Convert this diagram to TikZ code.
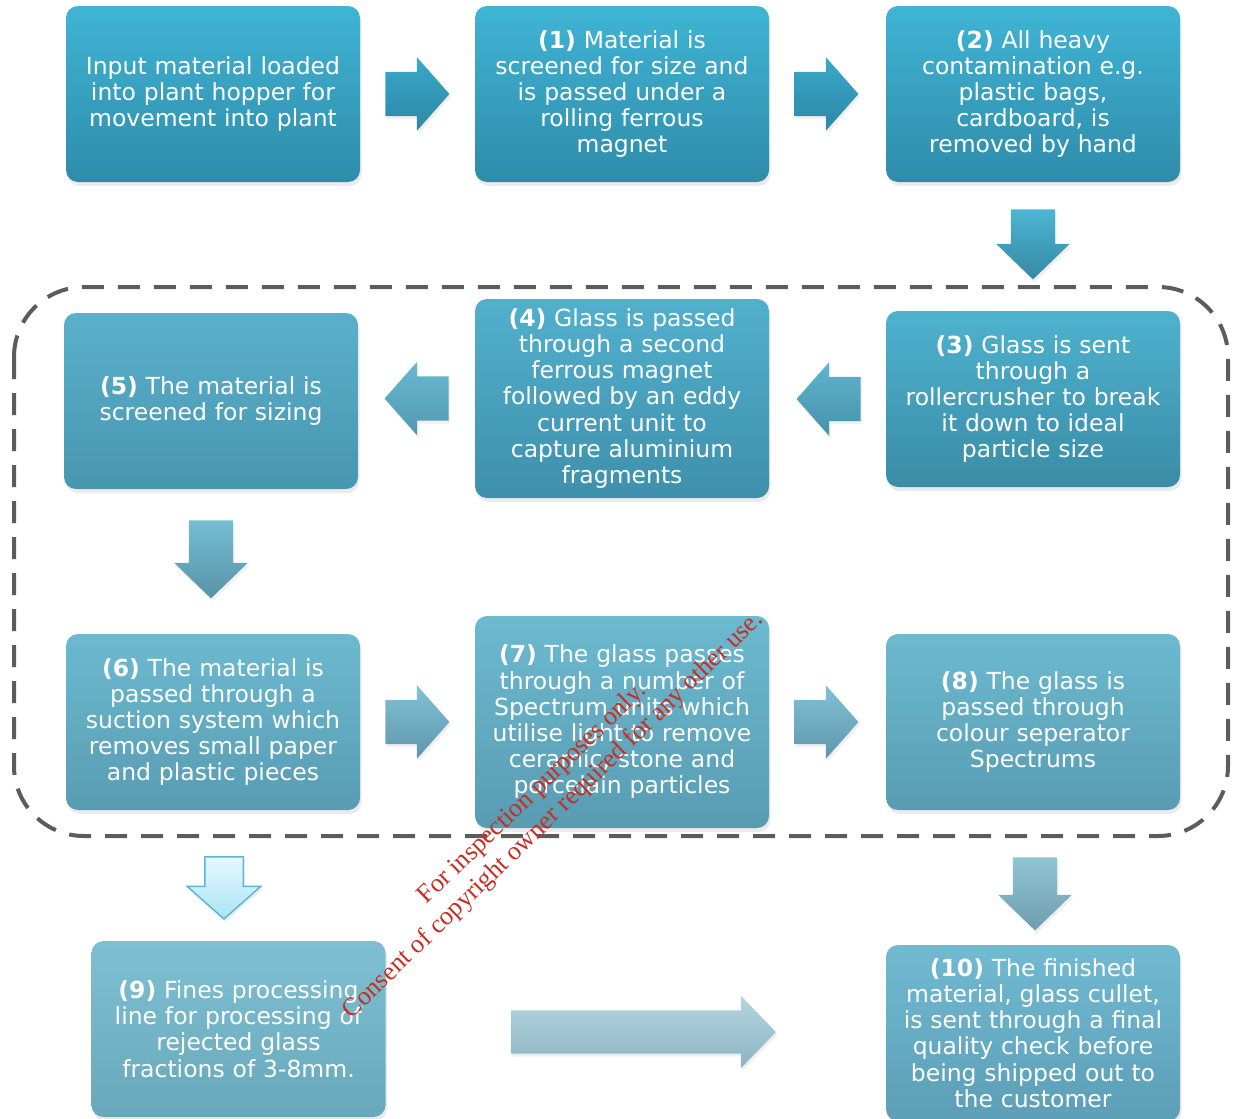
\documentclass[tikz,border=0pt]{standalone}
\usepackage{fontspec}
\setmainfont{DejaVu Sans}
\newfontfamily\wmfont{Liberation Serif}
\usepackage{tikz}
\usetikzlibrary{shapes.arrows,shadows,calc}

\definecolor{wmred}{RGB}{200,45,35}
\definecolor{framegray}{RGB}{92,92,92}
% box shades, top and bottom
\definecolor{row1top}{RGB}{64,180,212}
\definecolor{row1bot}{RGB}{46,140,170}
\definecolor{crushtop}{RGB}{78,178,207}
\definecolor{crushbot}{RGB}{58,140,166}
\definecolor{eddytop}{RGB}{82,176,205}
\definecolor{eddybot}{RGB}{62,144,172}
\definecolor{sizetop}{RGB}{90,176,204}
\definecolor{sizebot}{RGB}{72,150,176}
\definecolor{row3top}{RGB}{108,186,208}
\definecolor{row3bot}{RGB}{88,156,178}
\definecolor{finestop}{RGB}{126,192,210}
\definecolor{finesbot}{RGB}{104,168,187}
\definecolor{lasttop}{RGB}{112,186,210}
\definecolor{lastbot}{RGB}{92,158,182}
% arrow shades
\definecolor{arr1top}{RGB}{58,168,200}
\definecolor{arr1bot}{RGB}{44,136,168}
\definecolor{arr2top}{RGB}{76,182,210}
\definecolor{arr2bot}{RGB}{54,136,165}
\definecolor{arr3top}{RGB}{96,180,206}
\definecolor{arr3bot}{RGB}{70,146,172}
\definecolor{arr4top}{RGB}{106,186,210}
\definecolor{arr4bot}{RGB}{80,152,176}
\definecolor{arr5top}{RGB}{118,190,212}
\definecolor{arr5bot}{RGB}{88,146,166}
\definecolor{arr6top}{RGB}{128,194,214}
\definecolor{arr6bot}{RGB}{96,150,172}
\definecolor{palerim}{RGB}{90,184,212}
\definecolor{paletop}{RGB}{230,248,253}
\definecolor{palebot}{RGB}{170,228,245}
\definecolor{arr8top}{RGB}{144,196,212}
\definecolor{arr8bot}{RGB}{110,158,176}
\definecolor{longtop}{RGB}{180,214,226}
\definecolor{longbot}{RGB}{142,178,192}

\tikzset{
    flow-box/.style = {rectangle, rounded corners=12pt, minimum width=294pt, minimum height=176pt, text width=290pt, align=center, text=white, inner sep=0pt, font=\fontsize{23.5}{26.2}\selectfont, drop shadow={shadow xshift=1.5pt, shadow yshift=-4pt, opacity=0.16}},
    flow-arrow/.style = {single arrow, anchor=tail, single arrow tip angle=97, single arrow head extend=14.5pt, inner sep=22pt, minimum height=63pt, drop shadow={shadow xshift=1.5pt, shadow yshift=-3pt, opacity=0.12}},
    tone/.style 2 args = {top color=#1, bottom color=#2},
    frame-line/.style = {draw=framegray, line width=4pt, dash pattern=on 22pt off 14pt, rounded corners=70pt},
    watermark/.style = {text=wmred, align=center, rotate=44, font=\wmfont\fontsize{26}{30}\selectfont},
}

\begin{document}
\begin{tikzpicture}[x=1pt, y=-1pt]
\useasboundingbox (0,0) rectangle (1237,1119);

% dashed outline round the second and third rows
\draw[frame-line] (14,287) rectangle (1228,836);

% first row
\node[flow-box, tone={row1top}{row1bot}] (input) at (213,94) {Input material loaded\\into plant hopper for\\movement into plant};
\node[flow-box, tone={row1top}{row1bot}] (magnet) at (622,94) {\textbf{(1)} Material is\\screened for size and\\is passed under a\\rolling ferrous\\magnet};
\node[flow-box, tone={row1top}{row1bot}] (hand) at (1033,94) {\textbf{(2)} All heavy\\contamination e.g.\\plastic bags,\\cardboard, is\\removed by hand};

% second row
\node[flow-box, tone={crushtop}{crushbot}] (crusher) at (1033,399) {\textbf{(3)} Glass is sent\\through a\\rollercrusher to break\\it down to ideal\\particle size};
\node[flow-box, minimum height=199pt, tone={eddytop}{eddybot}] (eddy) at (622,398.5) {\textbf{(4)} Glass is passed\\through a second\\ferrous magnet\\followed by an eddy\\current unit to\\capture aluminium\\fragments};
\node[flow-box, tone={sizetop}{sizebot}] (sizing) at (211,401) {\textbf{(5)} The material is\\screened for sizing};

% third row
\node[flow-box, tone={row3top}{row3bot}] (suction) at (213,722) {\textbf{(6)} The material is\\passed through a\\suction system which\\removes small paper\\and plastic pieces};
\node[flow-box, minimum height=212pt, tone={row3top}{row3bot}] (spectrum) at (622,722) {\textbf{(7)} The glass passes\\through a number of\\Spectrum units which\\utilise light to remove\\ceramic, stone and\\porcelain particles};
\node[flow-box, tone={row3top}{row3bot}] (colour) at (1033,722) {\textbf{(8)} The glass is\\passed through\\colour seperator\\Spectrums};

% last row
\node[flow-box, tone={finestop}{finesbot}] (fines) at (238.5,1029) {\textbf{(9)} Fines processing\\line for processing of\\rejected glass\\fractions of 3-8mm.};
\node[flow-box, tone={lasttop}{lastbot}] (finished) at (1033,1033) {\textbf{(10)} The finished\\material, glass cullet,\\is sent through a final\\quality check before\\being shipped out to\\the customer};

% block arrows between the steps
\node[flow-arrow, tone={arr1top}{arr1bot}] (a01) at ([xshift=25pt]input.east) {};
\node[flow-arrow, tone={arr1top}{arr1bot}] (a12) at ([xshift=25pt]magnet.east) {};
\node[flow-arrow, shape border rotate=270, single arrow tip angle=92, minimum height=70pt, tone={arr2top}{arr2bot}] (a23) at ([yshift=-27pt]hand.south) {};
\node[flow-arrow, shape border rotate=180, minimum height=64pt, tone={arr3top}{arr3bot}] (a34) at ([xshift=-25pt]crusher.west) {};
\node[flow-arrow, shape border rotate=180, minimum height=62pt, tone={arr4top}{arr4bot}] (a45) at ([xshift=-26pt]eddy.west) {};
\node[flow-arrow, shape border rotate=270, single arrow tip angle=92, minimum height=78pt, tone={arr5top}{arr5bot}] (a56) at ([yshift=-31pt]sizing.south) {};
\node[flow-arrow, minimum height=62pt, tone={arr6top}{arr6bot}] (a67) at ([xshift=25pt]suction.east) {};
\node[flow-arrow, minimum height=62pt, tone={arr6top}{arr6bot}] (a78) at ([xshift=25pt]spectrum.east) {};
\node[flow-arrow, shape border rotate=270, inner sep=18.5pt, single arrow head extend=17.5pt, minimum height=62pt, draw=palerim, line width=1.5pt, tone={paletop}{palebot}] (a69) at ([xshift=11pt, yshift=-46pt]suction.south) {};
\node[flow-arrow, shape border rotate=270, single arrow tip angle=92, minimum height=73pt, tone={arr8top}{arr8bot}] (a810) at ([xshift=2pt, yshift=-47pt]colour.south) {};
\node[flow-arrow, inner sep=21.5pt, single arrow tip angle=92, minimum height=265pt, tone={longtop}{longbot}] (a910) at ([xshift=125pt, yshift=-3pt]fines.east) {};

% red note across the sheet
\node[watermark] (note) at (543,805) {For inspection purposes only.\\Consent of copyright owner required for any other use.};
\end{tikzpicture}
\end{document}
